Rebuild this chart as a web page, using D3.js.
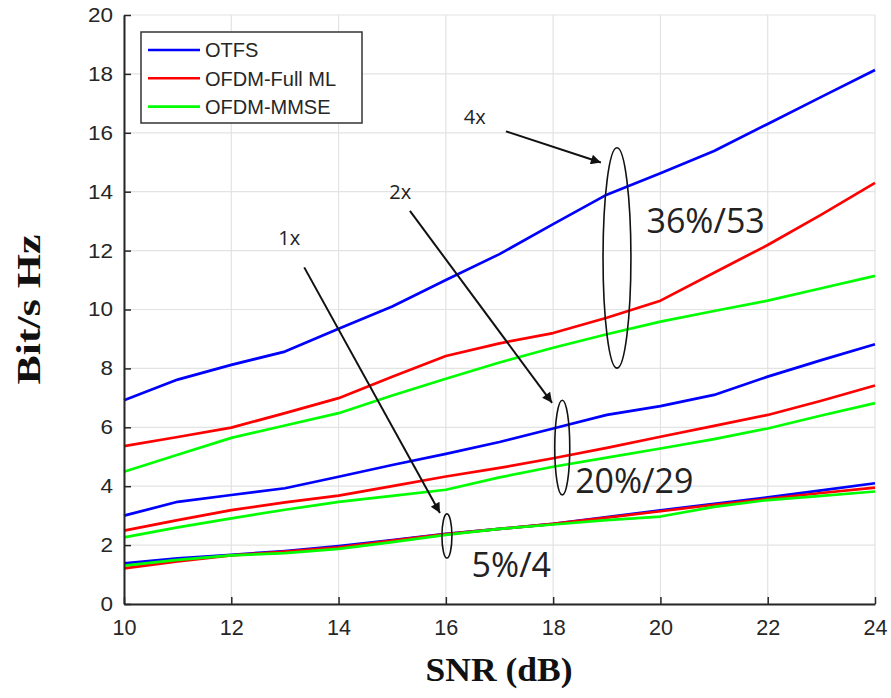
<!DOCTYPE html>
<html>
<head>
<meta charset="utf-8">
<script src="https://cdn.jsdelivr.net/npm/d3@7/dist/d3.min.js"></script>
<style>
  html, body { margin: 0; padding: 0; background: #fff; }
  svg { display: block; }
</style>
</head>
<body>
<svg id="chart" width="891" height="698"></svg>
<script>
// ---------- data ----------
const snr = [10, 11, 12, 13, 14, 15, 16, 17, 18, 19, 20, 21, 22, 23, 24];
const xTicks = [10, 12, 14, 16, 18, 20, 22, 24];
const yTicks = [0, 2, 4, 6, 8, 10, 12, 14, 16, 18, 20];
const seriesNames = ["OTFS", "OFDM-Full ML", "OFDM-MMSE"];

// 4x antenna configuration
const otfs4 = [6.92, 7.62, 8.12, 8.57, 9.35, 10.1, 11.0, 11.88, 12.9, 13.9, 14.63, 15.38, 16.3, 17.22, 18.13];
const fml4  = [5.36, 5.67, 5.99, 6.48, 6.99, 7.72, 8.42, 8.85, 9.2, 9.72, 10.3, 11.25, 12.19, 13.22, 14.3];
const mmse4 = [4.49, 5.07, 5.64, 6.06, 6.48, 7.08, 7.65, 8.2, 8.7, 9.16, 9.59, 9.95, 10.3, 10.72, 11.14];
// 2x
const otfs2 = [3.0, 3.47, 3.7, 3.93, 4.32, 4.72, 5.1, 5.5, 5.96, 6.42, 6.72, 7.1, 7.72, 8.28, 8.82];
const fml2  = [2.49, 2.85, 3.19, 3.45, 3.68, 4.0, 4.33, 4.62, 4.95, 5.3, 5.68, 6.05, 6.42, 6.9, 7.42];
const mmse2 = [2.26, 2.6, 2.91, 3.2, 3.47, 3.67, 3.88, 4.3, 4.66, 4.97, 5.28, 5.6, 5.96, 6.4, 6.82];
// 1x
const otfs1 = [1.38, 1.55, 1.67, 1.8, 1.97, 2.17, 2.38, 2.55, 2.72, 2.95, 3.18, 3.4, 3.62, 3.86, 4.1];
const fml1  = [1.21, 1.45, 1.65, 1.78, 1.92, 2.15, 2.37, 2.55, 2.72, 2.93, 3.15, 3.37, 3.57, 3.77, 3.95];
const mmse1 = [1.3, 1.5, 1.65, 1.73, 1.87, 2.1, 2.35, 2.55, 2.7, 2.85, 2.97, 3.3, 3.53, 3.67, 3.82];

// annotation values (data units)
const groupLabels = ["1x", "2x", "4x"];
const gainLabels = ["5%/4", "20%/29", "36%/53"];
const ellipseCx = [16.02, 18.17, 19.19];
const ellipseCy = [2.31, 5.31, 11.75];
const ellipseRy = [0.75, 1.61, 3.74];
const ellipseRx = [0.093, 0.14, 0.26];
const arrowFrom = [[13.36, 11.43], [15.33, 13.35], [17.12, 16.05]];
const arrowTo   = [[15.89, 3.09], [17.98, 6.83], [18.89, 14.99]];
const groupLabelPos = [[13.08, 12.43], [15.15, 13.99], [16.54, 16.54]];
const gainLabelPos = [[16.48, 0.92], [18.41, 3.77], [19.74, 12.6]];

// ---------- setup ----------
const colors = ["#0000ff", "#ff0000", "#00ff00"];
const svg = d3.select("#chart");
const x = d3.scaleLinear().domain([10, 24]).range([124, 875]);
const y = d3.scaleLinear().domain([0, 20]).range([604, 15]);

// grid
const grid = svg.append("g");
grid.selectAll("line.gx").data(xTicks).join("line")
  .attr("x1", d => x(d)).attr("x2", d => x(d))
  .attr("y1", y(0)).attr("y2", y(20))
  .attr("stroke", "#e3e3e3").attr("stroke-width", 1.2);
grid.selectAll("line.gy").data(yTicks).join("line")
  .attr("x1", x(10)).attr("x2", x(24))
  .attr("y1", d => y(d)).attr("y2", d => y(d))
  .attr("stroke", "#e3e3e3").attr("stroke-width", 1.2);

// series
const line = d3.line().x((d, i) => x(snr[i])).y(d => y(d));
const groups = [
  [otfs4, fml4, mmse4],
  [otfs2, fml2, mmse2],
  [otfs1, fml1, mmse1]
];
const lines = svg.append("g");
groups.forEach(g => {
  g.forEach((vals, k) => {
    lines.append("path").datum(vals)
      .attr("d", line)
      .attr("fill", "none")
      .attr("stroke", colors[k])
      .attr("stroke-width", 2.7)
      .attr("stroke-linejoin", "round");
  });
});

// axes
const axisColor = "#262626";
const xAxis = d3.axisBottom(x).tickValues(xTicks).tickSizeInner(-7).tickSizeOuter(0).tickPadding(15);
const yAxis = d3.axisLeft(y).tickValues(yTicks).tickSizeInner(-7).tickSizeOuter(0).tickPadding(11);
const gx = svg.append("g").attr("transform", `translate(0,${y(0)})`).call(xAxis);
const gy = svg.append("g").attr("transform", `translate(${x(10)},0)`).call(yAxis);
[gx, gy].forEach(g => {
  g.select(".domain").attr("stroke", axisColor).attr("stroke-width", 2);
  g.selectAll(".tick line").attr("stroke", axisColor).attr("stroke-width", 1.5);
  g.selectAll(".tick text")
    .attr("fill", "#262626")
    .style("font-family", "'Liberation Sans', Arial, sans-serif");
});
gy.selectAll(".tick text")
  .style("font-size", "20px")
  .attr("textLength", d => String(d).length * 12.5)
  .attr("lengthAdjust", "spacingAndGlyphs");
gx.selectAll(".tick text")
  .style("font-size", "22px")
  .attr("dy", "0.71em")
  .attr("textLength", d => String(d).length * 12)
  .attr("lengthAdjust", "spacingAndGlyphs");

// axis labels
svg.append("text")
  .attr("x", 499).attr("y", 681)
  .attr("text-anchor", "middle")
  .style("font-family", "'Liberation Serif', 'Times New Roman', serif")
  .style("font-weight", "bold").style("font-size", "33px")
  .attr("textLength", 147).attr("lengthAdjust", "spacingAndGlyphs")
  .attr("fill", "#111")
  .text("SNR (dB)");
svg.append("text")
  .attr("transform", `translate(40,${(y(0) + y(20)) / 2}) rotate(-90)`)
  .attr("text-anchor", "middle")
  .style("font-family", "'Liberation Serif', 'Times New Roman', serif")
  .style("font-weight", "bold").style("font-size", "34px")
  .attr("textLength", 150).attr("lengthAdjust", "spacingAndGlyphs")
  .attr("fill", "#111")
  .text("Bit/s Hz");

// legend
const legend = svg.append("g");
legend.append("rect")
  .attr("x", 141).attr("y", 32).attr("width", 221).attr("height", 91)
  .attr("fill", "#fff").attr("stroke", "#333").attr("stroke-width", 1.5);
seriesNames.forEach((name, k) => {
  const ly = 50 + k * 28.3;
  legend.append("line")
    .attr("x1", 148).attr("x2", 200).attr("y1", ly).attr("y2", ly)
    .attr("stroke", colors[k]).attr("stroke-width", 2.6);
  legend.append("text")
    .attr("x", 205).attr("y", ly).attr("dy", "0.36em")
    .style("font-family", "'Liberation Sans', Arial, sans-serif")
    .style("font-size", "20px")
    .attr("fill", "#262626")
    .text(name);
});

// annotations
const defs = svg.append("defs");
defs.append("marker")
  .attr("id", "arrowhead")
  .attr("viewBox", "0 0 10 10")
  .attr("refX", 10).attr("refY", 5)
  .attr("markerWidth", 7).attr("markerHeight", 5)
  .attr("markerUnits", "strokeWidth")
  .attr("orient", "auto")
  .append("path").attr("d", "M0,0 L10,5 L0,10 Z").attr("fill", "#111");

const ann = svg.append("g");
groupLabels.forEach((lab, i) => {
  ann.append("ellipse")
    .attr("cx", x(ellipseCx[i])).attr("cy", y(ellipseCy[i]))
    .attr("rx", x(ellipseCx[i] + ellipseRx[i]) - x(ellipseCx[i]))
    .attr("ry", y(ellipseCy[i]) - y(ellipseCy[i] + ellipseRy[i]))
    .attr("fill", "none").attr("stroke", "#111").attr("stroke-width", 1.6);
  ann.append("line")
    .attr("x1", x(arrowFrom[i][0])).attr("y1", y(arrowFrom[i][1]))
    .attr("x2", x(arrowTo[i][0])).attr("y2", y(arrowTo[i][1]))
    .attr("stroke", "#111").attr("stroke-width", 2)
    .attr("marker-end", "url(#arrowhead)");
  ann.append("text")
    .attr("x", x(groupLabelPos[i][0])).attr("y", y(groupLabelPos[i][1]))
    .attr("text-anchor", "middle").attr("dy", "0.36em")
    .style("font-family", "'Open Sans', sans-serif")
    .style("font-size", "20px").attr("fill", "#222")
    .text(lab);
  ann.append("text")
    .attr("x", x(gainLabelPos[i][0])).attr("y", y(gainLabelPos[i][1]))
    .style("font-family", "'Open Sans', sans-serif")
    .style("font-size", "34px").attr("fill", "#222")
    .text(gainLabels[i]);
});
</script>
</body>
</html>
